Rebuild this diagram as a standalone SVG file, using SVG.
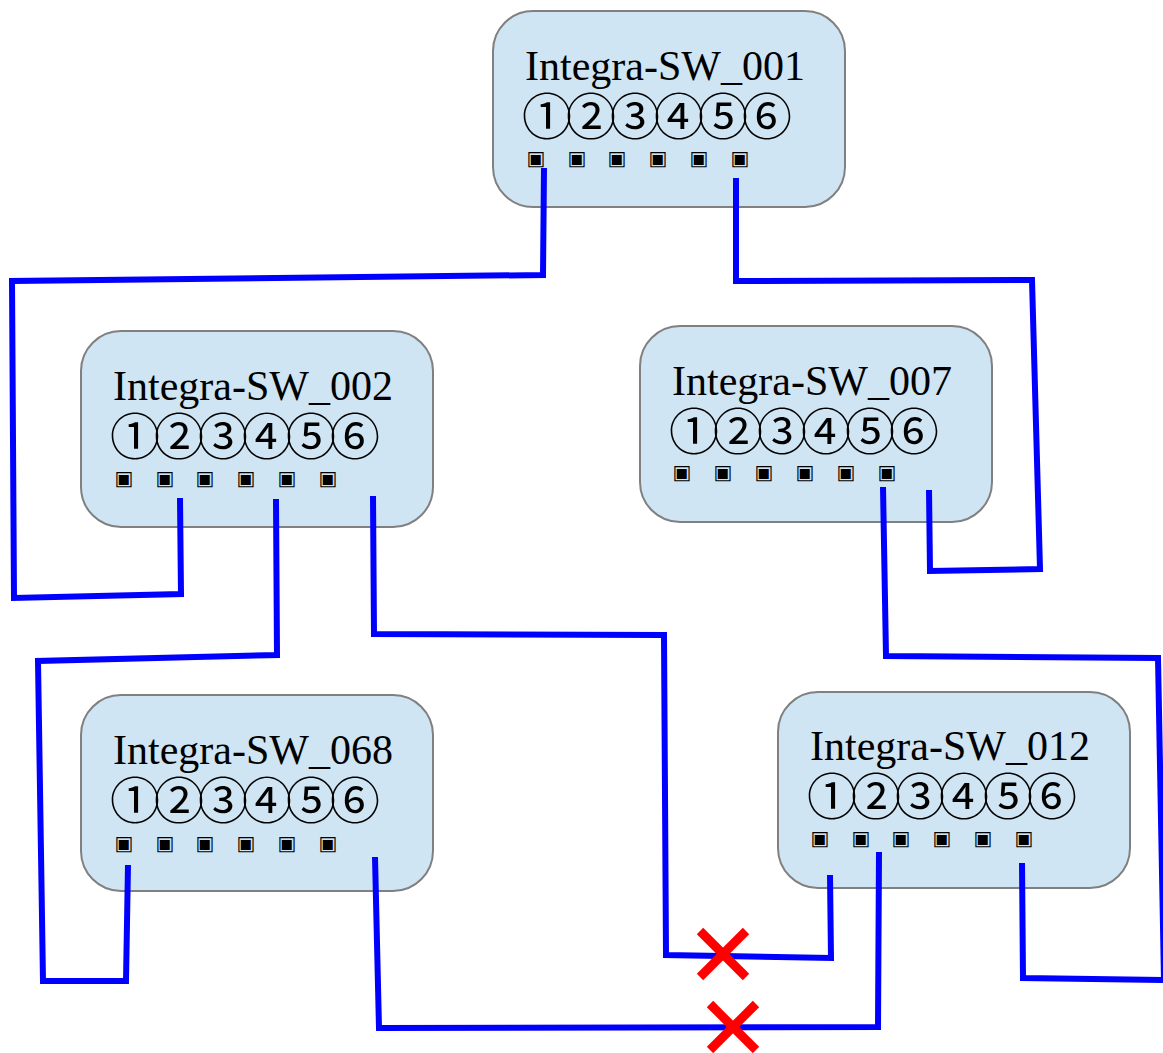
<svg xmlns="http://www.w3.org/2000/svg" width="1163" height="1053" viewBox="0 0 1163 1053">
<style>
.box{fill:#cfe5f3;stroke:#808080;stroke-width:2}
.title{font-family:"Liberation Serif","Times New Roman",serif;font-size:42px;fill:#000}
.nums{font-family:"Noto Sans CJK JP","DejaVu Sans",sans-serif;font-size:50px;letter-spacing:-6px;fill:#000}
.port{font-family:"DejaVu Sans",sans-serif;font-size:20px;fill:#000;text-anchor:middle}
.wire{fill:none;stroke:#0000ff;stroke-width:6}
.x{stroke:#ff0000;stroke-width:9;fill:none}
</style>
<g id="sw001">
<rect class="box" x="493" y="11" width="352" height="196" rx="40"/>
<text class="title" x="525" y="80">Integra-SW_001</text>
<text class="nums" x="522" y="135">①②③④⑤⑥</text>
<text class="port" x="536" y="165">▣</text><text class="port" x="577" y="165">▣</text><text class="port" x="617" y="165">▣</text><text class="port" x="658" y="165">▣</text><text class="port" x="699" y="165">▣</text><text class="port" x="740" y="165">▣</text>
</g>
<g id="sw002">
<rect class="box" x="81" y="331" width="352" height="196" rx="40"/>
<text class="title" x="113" y="400">Integra-SW_002</text>
<text class="nums" x="110" y="455">①②③④⑤⑥</text>
<text class="port" x="124" y="485">▣</text><text class="port" x="165" y="485">▣</text><text class="port" x="205" y="485">▣</text><text class="port" x="246" y="485">▣</text><text class="port" x="287" y="485">▣</text><text class="port" x="328" y="485">▣</text>
</g>
<g id="sw007">
<rect class="box" x="640" y="326" width="352" height="196" rx="40"/>
<text class="title" x="672" y="395">Integra-SW_007</text>
<text class="nums" x="669" y="450">①②③④⑤⑥</text>
<text class="port" x="682" y="479">▣</text><text class="port" x="723" y="479">▣</text><text class="port" x="764" y="479">▣</text><text class="port" x="805" y="479">▣</text><text class="port" x="846" y="479">▣</text><text class="port" x="887" y="479">▣</text>
</g>
<g id="sw068">
<rect class="box" x="81" y="695" width="352" height="196" rx="40"/>
<text class="title" x="113" y="764">Integra-SW_068</text>
<text class="nums" x="110" y="819">①②③④⑤⑥</text>
<text class="port" x="124" y="850">▣</text><text class="port" x="165" y="850">▣</text><text class="port" x="205" y="850">▣</text><text class="port" x="246" y="850">▣</text><text class="port" x="287" y="850">▣</text><text class="port" x="328" y="850">▣</text>
</g>
<g id="sw012">
<rect class="box" x="778" y="692" width="352" height="196" rx="40"/>
<text class="title" x="810" y="760">Integra-SW_012</text>
<text class="nums" x="807" y="815">①②③④⑤⑥</text>
<text class="port" x="820" y="845">▣</text><text class="port" x="861" y="845">▣</text><text class="port" x="901" y="845">▣</text><text class="port" x="942" y="845">▣</text><text class="port" x="983" y="845">▣</text><text class="port" x="1024" y="845">▣</text>
</g>
<g id="connectors">
<polyline class="wire" points="544,168 543,275 12,281 14,598 181,594 180,498"/>
<polyline class="wire" points="736,178 736,281 1032,280 1040,569 930,571 929,490"/>
<polyline class="wire" points="276,499 277,655 38,661 43,981 126,981 128,865"/>
<polyline class="wire" points="373,496 374,634 664,635 666,955 831,958 830,875"/>
<polyline class="wire" points="883,487 886,656 1158,658 1164,980"/>
<polyline class="wire" points="1022,863 1023,978 1163,980"/>
<polyline class="wire" points="375,857 379,1028 878,1027 879,852"/>
<g id="x1" class="x"><line x1="700" y1="931" x2="746" y2="977"/><line x1="746" y1="931" x2="700" y2="977"/></g>
<g id="x2" class="x"><line x1="710" y1="1004" x2="756" y2="1050"/><line x1="756" y1="1004" x2="710" y2="1050"/></g>
</g>
</svg>
